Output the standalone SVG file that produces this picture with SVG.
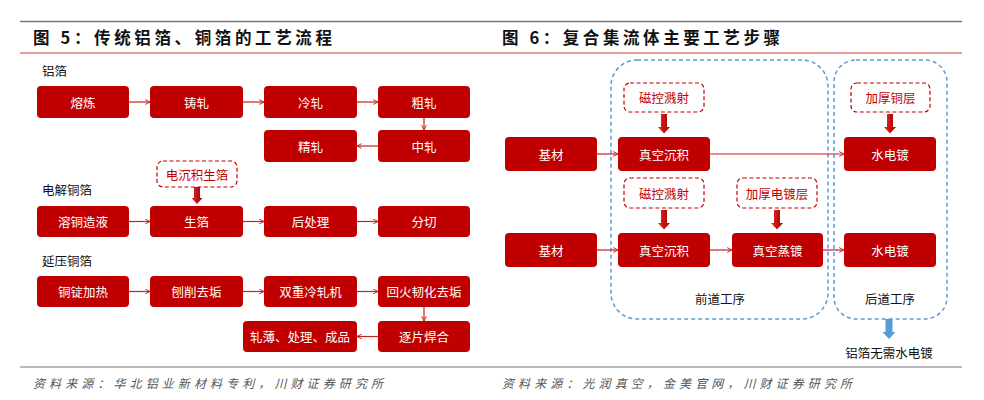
<svg xmlns="http://www.w3.org/2000/svg" width="984" height="400" viewBox="0 0 984 400">
<defs>
<style>
text{font-family:"Noto Sans CJK SC","Noto Sans",sans-serif}
.title{font-size:16.5px;font-weight:bold;fill:#111}
.box{fill:#c00000}
.bt{font-size:12.5px;fill:#fff;text-anchor:middle;dominant-baseline:central}
.lbl{font-size:12.5px;fill:#111;dominant-baseline:central}
.dash{fill:#fff;stroke:#c00000;stroke-width:1.2;stroke-dasharray:4 2.5}
.dt{font-size:12.5px;fill:#c00000;text-anchor:middle;dominant-baseline:central}
.blue{fill:none;stroke:#5b9bd5;stroke-width:1.5;stroke-dasharray:4 3}
.ln{stroke:#c8201e;stroke-width:1.2;fill:none;marker-end:url(#ah)}
.foot{font-size:12px;fill:#555;font-style:italic;dominant-baseline:central}
.ct{font-size:12.5px;fill:#111;text-anchor:middle;dominant-baseline:central}
</style>
<marker id="ah" viewBox="0 0 10 10" refX="9" refY="5" markerWidth="6" markerHeight="6" markerUnits="userSpaceOnUse" orient="auto">
<path d="M1,1 L9,5 L1,9" fill="none" stroke="#c8201e" stroke-width="1.6"/>
</marker>
<linearGradient id="rg" x1="0" y1="0" x2="1" y2="0">
<stop offset="0" stop-color="#e42a2a"/>
<stop offset="1" stop-color="#a00000"/>
</linearGradient>
</defs>
<rect width="984" height="400" fill="#fff"/>
<!-- header/footer lines -->
<line x1="20" y1="21.5" x2="962" y2="21.5" stroke="#777" stroke-width="1.5"/>
<line x1="20" y1="53" x2="962" y2="53" stroke="#e07b7b" stroke-width="1.5"/>
<line x1="20" y1="367" x2="962" y2="367" stroke="#777" stroke-width="1.2"/>
<text class="title" x="33" y="44" textLength="299" lengthAdjust="spacing">图 5：传统铝箔、铜箔的工艺流程</text>
<text class="title" x="502" y="44" textLength="278" lengthAdjust="spacing">图 6：复合集流体主要工艺步骤</text>
<text class="foot" x="33" y="382" textLength="350" lengthAdjust="spacing">资料来源：华北铝业新材料专利，川财证券研究所</text>
<text class="foot" x="502" y="382" textLength="350" lengthAdjust="spacing">资料来源：光润真空，金美官网，川财证券研究所</text>

<!-- left labels -->
<text class="lbl" x="42" y="70">铝箔</text>
<text class="lbl" x="42" y="189">电解铜箔</text>
<text class="lbl" x="42" y="260">延压铜箔</text>

<!-- blue containers -->
<g id="front-stage">
<rect class="blue" x="611" y="60" width="217" height="259" rx="26"/>
<text class="ct" x="720" y="298">前道工序</text>
</g>
<g id="back-stage">
<rect class="blue" x="834" y="60" width="113" height="259" rx="22"/>
<text class="ct" x="890" y="298">后道工序</text>
</g>

<!-- connectors -->
<g id="connectors">
<path class="ln" d="M129,102 H150"/>
<path class="ln" d="M243,102 H264"/>
<path class="ln" d="M357,102 H378"/>
<path class="ln" d="M424,118 V130"/>
<path class="ln" d="M378,146 H357"/>
<path class="ln" d="M129,221.5 H150"/>
<path class="ln" d="M243,221.5 H264"/>
<path class="ln" d="M357,221.5 H378"/>
<path class="ln" d="M129,291.5 H150"/>
<path class="ln" d="M243,291.5 H264"/>
<path class="ln" d="M357,291.5 H378"/>
<path class="ln" d="M424,307 V321"/>
<path class="ln" d="M378,336.5 H357"/>
<path class="ln" d="M597,154 H618"/>
<path class="ln" d="M710,154 H844"/>
<path class="ln" d="M597,250 H618"/>
<path class="ln" d="M710,250 H732"/>
<path class="ln" d="M823,250 H844"/>
<!-- thick arrows -->
<path d="M194,187 H200 V198 H202.5 L197,204 L191.5,198 H194 Z" fill="url(#rg)"/>
<path d="M661,114 H667 V127 H670 L664,133.5 L658,127 H661 Z" fill="url(#rg)"/>
<path d="M661,210 H667 V223 H670 L664,229.5 L658,223 H661 Z" fill="url(#rg)"/>
<path d="M774,210 H780 V223 H783 L777,229.5 L771,223 H774 Z" fill="url(#rg)"/>
<path d="M887,114 H893 V127 H896 L890,133.5 L884,127 H887 Z" fill="url(#rg)"/>
<path d="M885.5,319 H892.5 V332 H895.5 L889,339 L882.5,332 H885.5 Z" fill="#5b9bd5"/>
</g>

<!-- left nodes -->
<g id="n-rongLian"><rect class="box" x="37" y="86" width="92" height="32" rx="4"/><text class="bt" x="83" y="102">熔炼</text></g>
<g id="n-zhuZha"><rect class="box" x="150" y="86" width="93" height="32" rx="4"/><text class="bt" x="196.5" y="102">铸轧</text></g>
<g id="n-lengZha"><rect class="box" x="264" y="86" width="93" height="32" rx="4"/><text class="bt" x="310.5" y="102">冷轧</text></g>
<g id="n-cuZha"><rect class="box" x="378" y="86" width="92" height="32" rx="4"/><text class="bt" x="424" y="102">粗轧</text></g>
<g id="n-jingZha"><rect class="box" x="264" y="130" width="93" height="32" rx="4"/><text class="bt" x="310.5" y="146">精轧</text></g>
<g id="n-zhongZha"><rect class="box" x="378" y="130" width="92" height="32" rx="4"/><text class="bt" x="424" y="146">中轧</text></g>

<g id="n-dianChenJi"><rect class="dash" x="157" y="161" width="80" height="26" rx="6"/><text class="dt" x="197" y="174">电沉积生箔</text></g>
<g id="n-rongTong"><rect class="box" x="37" y="206" width="92" height="31" rx="4"/><text class="bt" x="83" y="221.5">溶铜造液</text></g>
<g id="n-shengBo"><rect class="box" x="150" y="206" width="93" height="31" rx="4"/><text class="bt" x="196.5" y="221.5">生箔</text></g>
<g id="n-houChuLi"><rect class="box" x="264" y="206" width="93" height="31" rx="4"/><text class="bt" x="310.5" y="221.5">后处理</text></g>
<g id="n-fenQie"><rect class="box" x="378" y="206" width="92" height="31" rx="4"/><text class="bt" x="424" y="221.5">分切</text></g>

<g id="n-tongDing"><rect class="box" x="37" y="276" width="92" height="31" rx="4"/><text class="bt" x="83" y="291.5">铜锭加热</text></g>
<g id="n-paoXiao"><rect class="box" x="150" y="276" width="93" height="31" rx="4"/><text class="bt" x="196.5" y="291.5">刨削去垢</text></g>
<g id="n-shuangZhong"><rect class="box" x="264" y="276" width="93" height="31" rx="4"/><text class="bt" x="310.5" y="291.5">双重冷轧机</text></g>
<g id="n-huiHuo"><rect class="box" x="378" y="276" width="92" height="31" rx="4"/><text class="bt" x="424" y="291.5">回火韧化去垢</text></g>
<g id="n-zhaBao"><rect class="box" x="243" y="321" width="114" height="31" rx="4"/><text class="bt" x="300" y="336.5">轧薄、处理、成品</text></g>
<g id="n-zhuPian"><rect class="box" x="378" y="321" width="92" height="31" rx="4"/><text class="bt" x="424" y="336.5">逐片焊合</text></g>

<!-- right nodes -->
<g id="n-ciKong1"><rect class="dash" x="624" y="83" width="80" height="29" rx="6"/><text class="dt" x="664" y="97.5">磁控溅射</text></g>
<g id="n-jiaHouTong"><rect class="dash" x="851" y="83" width="79" height="29" rx="6"/><text class="dt" x="890.5" y="97.5">加厚铜层</text></g>
<g id="n-jiCai1"><rect class="box" x="505" y="137" width="92" height="34" rx="4"/><text class="bt" x="551" y="154">基材</text></g>
<g id="n-zhenKong1"><rect class="box" x="618" y="137" width="92" height="34" rx="4"/><text class="bt" x="664" y="154">真空沉积</text></g>
<g id="n-shuiDianDu1"><rect class="box" x="844" y="137" width="92" height="34" rx="4"/><text class="bt" x="890" y="154">水电镀</text></g>

<g id="n-ciKong2"><rect class="dash" x="624" y="178" width="80" height="30" rx="6"/><text class="dt" x="664" y="193">磁控溅射</text></g>
<g id="n-jiaHouDianDu"><rect class="dash" x="737" y="178" width="80" height="30" rx="6"/><text class="dt" x="777" y="193">加厚电镀层</text></g>
<g id="n-jiCai2"><rect class="box" x="505" y="233" width="92" height="34" rx="4"/><text class="bt" x="551" y="250">基材</text></g>
<g id="n-zhenKong2"><rect class="box" x="618" y="233" width="92" height="34" rx="4"/><text class="bt" x="664" y="250">真空沉积</text></g>
<g id="n-zhengDu"><rect class="box" x="732" y="233" width="91" height="34" rx="4"/><text class="bt" x="777.5" y="250">真空蒸镀</text></g>
<g id="n-shuiDianDu2"><rect class="box" x="844" y="233" width="92" height="34" rx="4"/><text class="bt" x="890" y="250">水电镀</text></g>

<g id="n-note"><text class="ct" x="889" y="352">铝箔无需水电镀</text></g>
</svg>
